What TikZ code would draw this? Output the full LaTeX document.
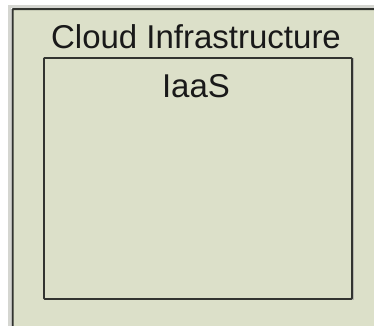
\documentclass[tikz,border=0pt]{standalone}
\usepackage{fontspec}
\setmainfont{Liberation Sans}
\definecolor{panel}{RGB}{220,224,201}
\definecolor{edge}{RGB}{50,52,48}
\definecolor{shade}{RGB}{150,152,140}
\tikzset{
  box/.style={draw=edge, fill=panel, line width=1.8pt, inner sep=0pt, rounded corners=0.8pt},
  lbl/.style={inner sep=0pt, font=\fontsize{33}{36}\selectfont, text=black!90}
}
\begin{document}
\begin{tikzpicture}[x=1pt,y=1pt]
\useasboundingbox (0,0) rectangle (374,325);
\fill[white] (0,0) rectangle (374,325);
% soft shadow of the outer panel
\draw[shade!40, line width=3pt] (9,-10) -- (9,319) -- (390,319);
% outer panel (extends past right and bottom edges)
\node[box, line width=2pt, anchor=north west, minimum width=380pt, minimum height=330pt] (outer) at (11.5,317) {};
% soft shadow of the inner box
\draw[shade!70, line width=2pt] (44,26.5) -- (352.5,26.5) -- (352.5,267);
% inner box
\node[box, anchor=north west, minimum width=308pt, minimum height=241pt] (inner) at (43,268) {};
\node[lbl, anchor=base] (title) at (196,277) {Cloud Infrastructure};
\node[lbl, anchor=base] (iaas) at (196,228) {IaaS};
\end{tikzpicture}
\end{document}
